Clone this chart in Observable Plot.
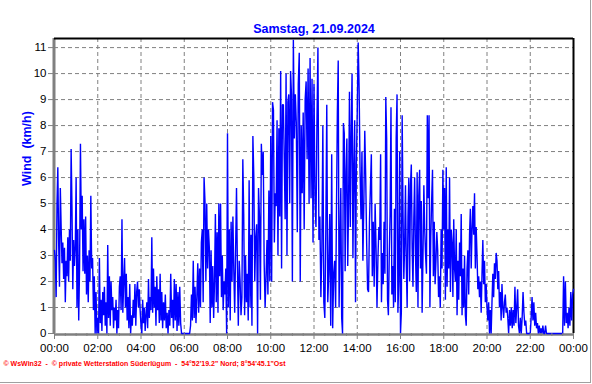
<!DOCTYPE html>
<html>
<head>
<meta charset="utf-8">
<script src="https://cdn.jsdelivr.net/npm/d3@7"></script>
<script src="https://cdn.jsdelivr.net/npm/@observablehq/plot@0.6"></script>
<style>
  html, body { margin: 0; padding: 0; background: #fff; }
  #chart { width: 592px; height: 384px; }
</style>
</head>
<body>
<div id="chart"></div>
<script>
const titleText = "Samstag, 21.09.2024";
const yLabel = "Wind  (km/h)";
const footerText = "\u00A9 WsWin32  -  \u00A9 private Wetterstation S\u00FCderl\u00FCgum  -  54\u00B052'19.2\" Nord; 8\u00B054'45.1\"Ost";

const xTicks = [0, 2, 4, 6, 8, 10, 12, 14, 16, 18, 20, 22, 24];
const xTickLabels = ["00:00","02:00","04:00","06:00","08:00","10:00","12:00","14:00","16:00","18:00","20:00","22:00","00:00"];
const xMinorTicks = [0.5,1,1.5,2.5,3,3.5,4.5,5,5.5,6.5,7,7.5,8.5,9,9.5,10.5,11,11.5,12.5,13,13.5,14.5,15,15.5,16.5,17,17.5,18.5,19,19.5,20.5,21,21.5,22.5,23,23.5];
const yTicks = [0,1,2,3,4,5,6,7,8,9,10,11];
const yGrid = [1,2,3,4,5,6,7,8,9,10,11];

// wind speed (km/h), samples within each hour
const h00 = [3.2,2.8,1.4,5.0,6.4,3.5,1.8,5.6,4.1,2.7,3.5,2.1,3.3,1.2,2.8,2.2,3.7,2.0,4.0,2.8,7.1,4.9,1.7,3.6,2.6,3.3];
const h01 = [6.0,1.0,4.0,0.5,2.6,7.3,4.0,5.3,2.4,4.4,2.3,4.5,1.5,3.0,1.2,3.2,2.0,5.3,2.5,2.9,0.9,2.2,0,1.6,0];
const h02 = [0.6,0,2.9,0.4,1.3,0.1,1.6,0.7,1.8,0.3,1.2,0,3.4,0.6,2.2,0.3,2.0,0.9,1.4,0.2,1.0,0.5,1.3,0,0.9,0.2];
const h03 = [1.8,2.2,0.9,4.4,0.8,2.0,2.9,1.0,2.3,0.5,1.4,0.2,1.9,0,0.7,0.3,1.3,0.6,1.9,0.3,1.6,2.0,1.0,1.7,0.9];
const h04 = [0.3,0,1.3,0.4,1.0,0.1,0.7,1.2,0.2,2.1,0.6,1.4,0.9,3.7,0.8,2.5,1.0,1.8,0.3,2.2,0.9,1.7,0.4,2.3,0.5,1.6];
const h05 = [0.2,1.2,0.5,1.5,0.2,0.8,0,0.9,0.3,2.3,0.6,1.3,0.2,2.1,0.5,1.9,0.1,1.6,0.3,1.8,0.4,0,0,0];
const h06 = [0,0,0,0,0,0,0,0.3,1.5,0.5,2.8,0.6,1.8,0.4,1.4,2.7,0.8,2.5,1.0,3.5,4.0,1.2,6.0,5.1];
const h07 = [2.0,5.0,2.5,4.0,3.3,0.4,3.2,1.0,2.6,0.6,2.0,4.6,1.2,3.9,0.8,5.0,2.2,5.0,1.4,3.0,0.9,2.0,1.5,2.5,0];
const h08 = [7.7,1.0,4.0,0.5,4.3,2.0,4.5,2.4,0.8,3.2,5.6,2.6,0.3,2.8,2.0,0.7,1.4,6.7,4.6,0.7,3.0,1.2,2.3,0.5];
const h09 = [5.9,1.0,3.8,0.3,7.6,6.0,2.0,3.7,4.2,0,5.6,4.5,1.3,7.3,6.1,7.0,2.7,1.0,2.2,3.6,1.5,5.5,2.0];
const h10 = [7.6,2.0,8.9,8.6,3.5,5.4,4.9,8.2,3.0,7.9,4.5,10.1,2.5,8.8,8.8,6.7,4.4,10.0,3.0,8.9,9.2,5.0,10.1,9.2];
const h11 = [2.0,11.3,7.5,9.2,8.1,3.9,9.6,10.8,2.0,8.0,5.4,8.5,4.0,9.0,9.7,6.7,10.2,5.0,10.6,5.2,9.8,3.5];
const h12 = [9.6,5.2,4.1,8.1,11.0,3.6,4.5,1.4,3.2,8.0,1.2,0.6,3.9,8.8,1.2,2.3,4.6,0.3,6.9,0.2,2.3,2.8];
const h13 = [1.0,4.8,8.5,10.5,1.0,3.4,5.6,0.6,0,8.1,7.7,2.4,6.2,7.5,2.6,5.0,9.3,4.1,7.7,10.0,2.9,6.3,8.2,1.2,6.5];
const h14 = [8.5,11.2,9.4,6.2,4.4,7.0,2.8,5.0,7.8,6.0,3.5,1.7,1.6,4.3,5.6,6.9,2.2,4.3,1.8,5.0,3.3,1.0,2.9];
const h15 = [4.1,3.6,6.9,1.2,3.1,1.9,4.3,2.3,9.1,7.5,1.3,0.7,3.0,4.6,8.7,1.5,2.6,1.0,4.8,1.2,7.5,9.2,0.8,2.0,7.0];
const h16 = [0,0.8,8.4,4.7,2.1,3.4,5.7,2.6,1.0,4.5,6.0,2.0,5.7,6.5,3.3,1.8,4.4,6.0,3.1,1.6,6.2,1.0,5.3,6.3,2.5,5.1];
const h17 = [0.8,3.0,5.7,4.0,3.0,2.3,8.4,5.2,8.4,1.0,3.7,5.1,6.3,2.2,4.3,1.9,2.8,3.9,3.2,1.4,2.2,1.0,4.0,2.5,6.3];
const h18 = [4.0,5.6,1.3,6.4,1.8,4.0,2.5,6.0,1.6,4.0,3.5,1.4,4.4,2.5,2.0,4.0,0.7,2.8,1.3,3.5,2.2,4.6,0.7,2.5,1.0,3.0];
const h19 = [0.7,0.3,2.5,3.2,1.5,3.8,4.8,2.5,4.0,4.9,3.8,5.4,2.5,4.1,3.0,1.7,2.2,1.4,2.0,0.8,2.3,3.6,1.9,2.8,1.2,1.9];
const h20 = [1.0,0.5,1.2,0,0.9,0,1.2,2.3,1.4,2.7,2.1,3.1,2.8,1.7,2.4,1.0,1.6,0.5,1.9,1.0,0.6,1.2,1.5,0.8,1.0,0.6];
const h21 = [0,0.9,0.3,1.0,0.2,0.9,0.3,1.8,0.4,1.0,1.7,0.3,0,0.6,0,0.6,1.6,0.8,0.3,0.5,0,0,0,0];
const h22 = [0,0.6,1.4,0.5,1.2,0.3,0.8,0.2,0.4,0,0.3,0,0.2,0,0.3,0,0,0.3,0,0,0,0,0,0];
const h23 = [0,0,0,0,0,0,0,0,0,0,0,0,0,2.2,0.3,2.0,0.4,0.8,0.2,1.0,0.3,1.6,0.5,1.5];
const endValue = 1.7;

const hourly = [h00,h01,h02,h03,h04,h05,h06,h07,h08,h09,h10,h11,h12,h13,h14,h15,h16,h17,h18,h19,h20,h21,h22,h23];
const data = hourly.flatMap((vals, h) => vals.map((v, i) => ({t: h + i / vals.length, v})));
data.push({t: 24, v: endValue});

const gray = "#808080";
const font = "'Liberation Sans', Arial, sans-serif";

const chart = Plot.plot({
  width: 592,
  height: 384,
  marginLeft: 54,
  marginRight: 19,
  marginTop: 38,
  marginBottom: 51,
  style: {fontFamily: font, fontSize: "11px", background: "#fff", color: "#000"},
  x: {domain: [0, 24], axis: null},
  y: {domain: [0, 11.35], axis: null},
  marks: [
    Plot.ruleY(yGrid, {stroke: gray, strokeDasharray: "4,3", strokeWidth: 1}),
    Plot.ruleX(xTicks.slice(1, -1), {stroke: gray, strokeDasharray: "4,3", strokeWidth: 1}),
    Plot.ruleY([0], {stroke: gray, strokeWidth: 2.5, dy: 1}),
    Plot.ruleX([0], {stroke: gray, strokeWidth: 3, dx: -0.5}),
    Plot.ruleY([11.35], {stroke: "#000", strokeWidth: 2}),
    Plot.ruleX([24], {stroke: "#000", strokeWidth: 2}),
    Plot.line(data, {x: "t", y: "v", stroke: "#0000ff", strokeWidth: 1.4, strokeLinejoin: "miter"}),
    Plot.axisY({ticks: yTicks, label: null, tickSize: 6, tickPadding: 2, stroke: gray, fill: "#000", fontSize: 11.5, tickFormat: d => String(d)}),
    Plot.axisX({ticks: xTicks, label: null, tickSize: 6, tickPadding: 4, stroke: gray, fill: "#000", fontSize: 11.5, tickFormat: d => xTickLabels[xTicks.indexOf(d)]}),
    Plot.axisX({ticks: xMinorTicks, label: null, tickSize: 3, stroke: gray, text: null}),
    Plot.text([titleText], {frameAnchor: "top", dy: -14, fill: "#0000ff", fontWeight: "bold", fontSize: 12.5}),
    Plot.text([yLabel], {frameAnchor: "left", dx: -28, rotate: -90, fill: "#0000ff", fontWeight: "bold", fontSize: 12.5}),
    Plot.text([footerText], {frameAnchor: "bottom-left", dx: -51, dy: 32, textAnchor: "start", fill: "#ff0000", fontWeight: "bold", fontSize: 7})
  ]
});
document.getElementById("chart").appendChild(chart);

// outer window frame (light gray bottom/right edge)
const svg = d3.select(chart);
svg.append("line").attr("x1", 590.5).attr("x2", 590.5).attr("y1", 0).attr("y2", 383).attr("stroke", "#a0a0a0");
svg.append("line").attr("x1", 0).attr("x2", 591).attr("y1", 382.5).attr("y2", 382.5).attr("stroke", "#a0a0a0");
</script>
</body>
</html>
